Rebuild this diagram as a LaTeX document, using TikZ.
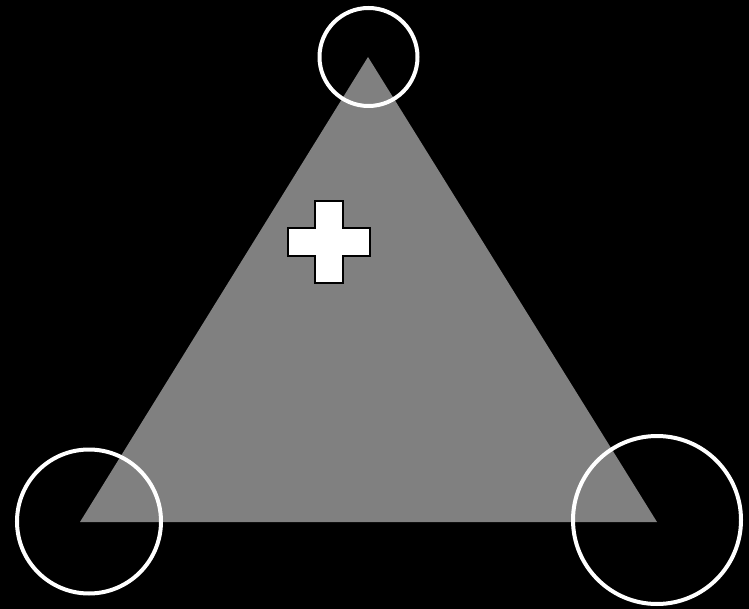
\documentclass[tikz,border=0pt]{standalone}
\begin{document}
\begin{tikzpicture}[x=1pt,y=-1pt,
  ring/.style={draw=white,line width=4pt},
  plusshape/.style={fill=white,draw=black,line width=2pt}]
\fill[black] (0,0) rectangle (749,609);
\useasboundingbox (0,0) rectangle (749,609);
\coordinate (A) at (368,57);
\coordinate (B) at (80,522);
\coordinate (C) at (657,522);
\fill[gray!100!black,fill=black!50] (A) -- (B) -- (C) -- cycle;
\draw[ring] (368.5,57) circle (49);
\draw[ring] (89,521.5) circle (72);
\draw[ring] (657,520) circle (84);
\draw[plusshape] (315,201) -- (343,201) -- (343,228) -- (370,228) -- (370,256) -- (343,256) -- (343,283) -- (315,283) -- (315,256) -- (288,256) -- (288,228) -- (315,228) -- cycle;
\end{tikzpicture}
\end{document}
